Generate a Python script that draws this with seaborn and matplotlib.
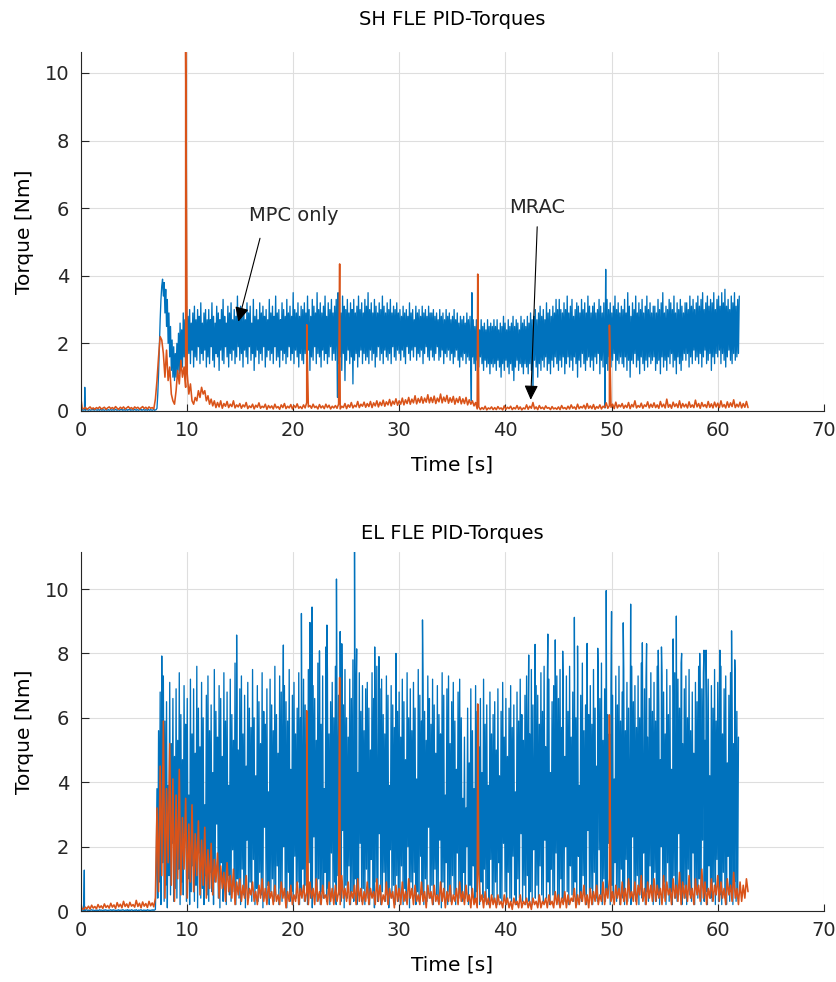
import numpy as np
import matplotlib
matplotlib.use("Agg")
import matplotlib.pyplot as plt
import seaborn as sns

# ---------------------------------------------------------------------------
# Logged PID torques.  MPC traces: 0.075 s sampling, one text row = 1.5 s.
# MRAC traces: 0.15 s sampling, one text row = 3 s.
# ---------------------------------------------------------------------------
MPC_DT, MPC_ROW = 0.075, 1.5
MRAC_DT, MRAC_ROW = 0.15, 3.0

SH_MPC = """
0.04 0.03 0.05 0.02 0.03 0.04 0.02 0.03 0.05 0.03 0.02 0.04 0.03 0.02 0.04 0.03 0.05 0.02 0.03 0.04
0.03 0.02 0.04 0.03 0.02 0.05 0.03 0.02 0.04 0.03 0.02 0.03 0.05 0.02 0.03 0.04 0.02 0.03 0.04 0.02
0.03 0.04 0.02 0.03 0.05 0.03 0.02 0.04 0.03 0.02 0.04 0.03 0.05 0.02 0.03 0.04 0.02 0.03 0.04 0.02
0.04 0.03 0.05 0.02 0.03 0.04 0.02 0.03 0.05 0.03 0.02 0.04 0.03 0.02 0.04 0.03 0.05 0.02 0.03 0.04
0.03 0.02 0.04 0.03 0.02 0.05 0.03 0.02 0.04 0.03 0.02 0.03 0.05 0.02 0.03 0.04 0.08 0.5 1.1 1.9
2.7 3.3 3.7 3.9 3.4 3.8 2.9 3.6 2.5 3.3 2.0 2.9 1.6 2.5 1.2 2.1 1.0 1.9 0.9 1.7
1.0 2.0 1.2 2.3 1.1 2.6 1.4 2.4 1.3 2.9 1.6 2.7 1.2 3.1 1.5 2.8 1.7 3.0 1.4 2.6
1.8 2.9 1.3 3.1 1.6 2.7 1.5 3.0 1.9 2.8 1.4 3.2 1.7 2.6 1.5 2.9 1.8 3.0 1.3 2.7
1.6 3.0 1.4 2.7 1.9 3.2 1.5 2.8 1.3 2.6 1.7 3.1 1.6 2.9 1.2 2.7 1.8 3.0 1.5 3.3
1.4 2.8 1.9 2.6 1.6 3.1 1.3 2.9 1.7 3.2 1.5 2.7 1.8 3.0 1.4 2.8 1.6 3.4 1.9 2.9
1.5 3.1 1.7 2.8 1.3 3.0 1.8 2.7 1.6 3.2 1.4 2.9 1.9 3.1 1.5 2.6 1.7 3.3 1.2 2.8
1.6 3.0 1.8 2.7 1.4 3.2 1.7 2.9 1.5 3.1 1.9 2.8 1.3 3.0 1.6 2.7 1.8 3.3 1.5 2.9
1.7 3.1 1.4 2.8 1.9 3.4 1.5 2.9 1.6 3.0 1.3 2.7 1.8 3.2 1.5 3.0 1.7 2.8 1.4 3.3
1.6 2.9 1.9 3.1 1.5 2.8 1.7 3.5 1.4 3.0 1.8 2.9 1.6 3.2 1.3 2.8 1.7 3.1 1.5 3.0
1.4 3.2 1.7 2.9 1.5 3.4 1.8 3.0 1.2 2.8 1.6 3.3 1.5 3.1 1.9 2.9 1.4 3.5 1.7 3.0
1.6 3.2 1.3 2.9 1.8 3.1 1.5 3.4 1.7 2.8 1.4 3.2 1.6 3.0 1.9 3.3 1.5 2.9 1.7 3.1
1.5 3.3 1.8 3.0 1.4 3.2 1.6 2.9 1.2 3.4 1.7 3.1 0.9 3.0 1.5 3.3 1.8 2.9 1.4 3.2
1.6 3.0 0.8 3.3 1.5 2.9 1.7 3.1 1.3 3.4 1.6 3.0 1.8 3.2 1.4 2.9 1.7 3.3 1.5 3.1
1.6 3.5 1.4 3.0 1.8 3.2 1.5 2.9 1.7 3.3 1.3 3.1 1.6 2.9 1.9 3.2 1.5 3.0 1.7 3.4
1.4 3.1 1.8 2.9 1.6 3.2 1.5 3.0 1.7 3.3 1.4 2.9 1.9 3.1 1.6 3.0 1.5 3.2 1.8 2.9
1.7 3.0 1.5 2.8 1.8 3.1 1.6 2.9 1.4 3.0 1.9 2.8 1.7 3.2 1.5 2.9 1.8 3.0 1.6 2.7
1.9 3.1 1.5 2.9 1.7 3.0 1.6 2.8 1.8 3.1 1.4 2.9 1.7 3.0 1.9 2.8 1.6 3.1 1.5 2.9
1.8 2.9 1.6 3.0 1.5 2.8 1.7 2.9 1.9 2.7 1.5 3.0 1.6 2.8 1.8 2.9 1.4 2.7 1.7 3.0
1.6 2.8 1.8 2.9 1.5 2.7 1.7 2.8 1.4 3.0 1.6 2.7 1.8 2.9 1.5 2.6 1.3 2.8 1.6 2.7
1.5 2.8 1.7 2.6 1.4 2.9 1.6 2.7 1.5 2.8 1.3 2.6 1.6 2.7 1.4 2.5 1.2 2.7 1.5 2.6
1.3 2.4 1.6 2.7 1.4 2.5 1.2 2.6 1.5 2.4 1.3 2.7 1.4 2.5 1.1 2.6 1.4 2.5 1.3 2.7
1.4 2.5 1.2 2.7 1.5 2.4 1.3 2.6 1.0 2.5 1.4 2.8 1.2 2.6 1.5 2.4 1.3 2.7 1.1 2.5
1.4 2.6 1.2 2.8 0.9 2.5 1.3 2.7 1.5 2.6 1.2 2.4 1.4 2.8 1.3 2.6 1.1 2.7 1.4 2.5
1.3 2.8 1.1 2.6 1.4 2.9 1.2 2.7 0.6 2.8 1.5 3.0 1.3 2.7 1.0 2.9 1.4 3.1 1.2 2.8
1.5 3.0 1.3 2.7 1.6 3.2 1.2 2.9 1.4 3.0 1.1 2.8 1.5 3.1 1.3 2.9 1.6 3.3 1.4 3.0
1.2 3.3 1.5 3.0 1.3 2.9 1.6 3.2 1.1 3.0 1.4 3.4 1.6 2.9 1.3 3.1 1.5 3.3 1.2 2.8
1.6 3.0 1.4 3.2 1.0 3.1 1.5 2.9 1.3 3.3 1.7 3.0 1.4 3.2 1.2 2.9 1.5 3.4 1.6 3.1
1.3 2.9 1.5 3.1 1.2 3.2 1.6 2.9 1.4 3.0 1.7 3.3 1.1 3.1 1.5 2.9 1.3 3.2 1.6 3.0
1.4 3.3 1.2 3.0 1.6 3.2 1.3 2.9 1.5 3.1 1.7 3.4 1.2 3.0 1.5 3.2 1.4 2.9 1.6 3.1
1.4 3.0 1.3 3.3 1.6 2.9 1.2 3.5 1.5 3.1 1.0 2.8 1.5 3.2 1.4 3.0 1.7 3.4 1.3 2.9
1.5 3.2 1.1 3.0 1.6 3.3 1.4 2.9 1.2 3.1 1.5 3.4 1.3 3.0 1.6 3.2 1.4 2.9 1.5 3.1
1.6 3.1 1.2 2.9 1.4 3.3 1.5 3.0 1.1 3.2 1.6 3.5 1.3 2.9 1.5 3.1 1.2 3.0 1.6 3.3
1.4 3.2 1.7 3.0 1.3 3.4 1.5 2.9 1.1 3.2 1.6 3.0 1.4 3.3 1.2 3.1 1.5 2.9 1.7 3.2
1.5 3.2 1.7 3.0 1.3 3.4 1.6 3.1 1.4 3.3 1.8 3.0 1.5 3.2 1.6 3.4 1.4 3.1 1.7 3.3
1.3 3.5 1.6 3.0 1.8 3.2 1.4 3.4 1.5 3.1 1.7 3.3 1.2 3.2 1.6 3.5 1.4 3.0 1.7 3.3
1.6 3.4 1.8 3.1 1.4 3.5 1.7 3.2 1.5 3.6 1.3 3.1 1.6 3.3 1.8 3.0 1.5 3.4 1.4 3.2
1.7 3.5 1.5 3.1 1.6 3.3 1.7 3.4
"""
SH_MPC_SPIKE_T = [0.40, 24.20, 24.25, 36.80, 36.85, 49.40, 49.45]
SH_MPC_SPIKE_V = [0.70, 0.40, 3.50, 0.30, 3.50, 0.09, 4.19]

SH_MRAC = """
0.48 0.09 0.06 0.11 0.05 0.08 0.12 0.06 0.09 0.05 0.10 0.07 0.12 0.06 0.08 0.11 0.05 0.09 0.12 0.07
0.10 0.06 0.13 0.08 0.05 0.11 0.07 0.12 0.06 0.09 0.13 0.07 0.10 0.05 0.12 0.08 0.11 0.06 0.09 0.13
0.07 0.11 0.06 0.12 0.08 0.10 0.06 0.35 0.9 1.6 2.2 2.1 1.7 1.0 1.8 0.9 1.3 0.5 0.3 0.2
0.6 1.2 0.8 1.5 1.0 1.3 0.7 1.1 0.5 0.8 0.3 0.2 0.4 0.3 0.6 0.4 0.7 0.5 0.6 0.3
0.45 0.2 0.35 0.15 0.3 0.1 0.25 0.12 0.3 0.08 0.22 0.14 0.28 0.1 0.2 0.13 0.3 0.09 0.18 0.12
0.22 0.08 0.18 0.12 0.25 0.07 0.15 0.1 0.2 0.06 0.17 0.11 0.24 0.08 0.14 0.1 0.2 0.05 0.16 0.09
0.15 0.06 0.2 0.09 0.13 0.05 0.18 0.1 0.22 0.07 0.14 0.09 0.19 0.06 0.16 0.1 0.21 0.08 0.13 0.07
0.18 0.09 0.25 0.12 0.16 0.08 0.2 0.1 0.14 0.06 0.19 0.09 0.15 0.07 0.2 0.1 0.17 0.06 0.14 0.09
0.16 0.08 0.2 0.06 0.14 0.1 0.22 0.07 0.18 0.11 0.25 0.09 0.17 0.12 0.28 0.1 0.2 0.14 0.26 0.11
0.22 0.13 0.28 0.1 0.24 0.15 0.3 0.12 0.26 0.16 0.32 0.14 0.27 0.18 0.34 0.15 0.29 0.2 0.36 0.17
0.3 0.2 0.38 0.18 0.33 0.22 0.4 0.2 0.35 0.24 0.45 0.21 0.37 0.25 0.42 0.23 0.38 0.26 0.48 0.24
0.4 0.25 0.44 0.22 0.38 0.27 0.5 0.24 0.41 0.28 0.46 0.23 0.39 0.26 0.43 0.2 0.37 0.25 0.42 0.21
0.36 0.22 0.4 0.18 0.33 0.2 0.3 0.15 0.25 0.06 0.12 0.04 0.1 0.05 0.14 0.03 0.09 0.06 0.12 0.04
0.1 0.04 0.13 0.06 0.09 0.03 0.15 0.05 0.11 0.07 0.14 0.04 0.1 0.06 0.16 0.05 0.12 0.03 0.09 0.06
0.18 0.05 0.14 0.08 0.25 0.06 0.12 0.04 0.16 0.07 0.11 0.05 0.15 0.08 0.1 0.04 0.13 0.06 0.09 0.05
0.12 0.04 0.16 0.07 0.1 0.05 0.14 0.06 0.18 0.08 0.12 0.05 0.2 0.07 0.13 0.09 0.17 0.06 0.22 0.08
0.15 0.07 0.19 0.05 0.13 0.08 0.18 0.06 0.14 0.1 0.24 0.08 0.16 0.11 0.2 0.07 0.26 0.09 0.18 0.12
0.22 0.08 0.17 0.1 0.25 0.07 0.19 0.12 0.3 0.09 0.16 0.11 0.23 0.08 0.18 0.13 0.27 0.09 0.2 0.11
0.24 0.1 0.18 0.08 0.28 0.12 0.2 0.09 0.35 0.11 0.19 0.08 0.26 0.13 0.21 0.1 0.3 0.09 0.22 0.12
0.2 0.09 0.27 0.11 0.18 0.1 0.32 0.12 0.22 0.08 0.25 0.13 0.19 0.1 0.28 0.11 0.21 0.09 0.26 0.12
0.23 0.1 0.3 0.12 0.19 0.09 0.27 0.11 0.24 0.13 0.33 0.1 0.2 0.12 0.26 0.09 0.22 0.11 0.28 0.1
"""
SH_MRAC_SPIKE_T = [9.90, 21.30, 24.40, 37.40, 49.80]
SH_MRAC_SPIKE_V = [10.62, 2.55, 4.35, 4.05, 2.54]

EL_MPC = """
0.03 0.02 0.04 0.02 0.03 0.01 0.02 0.04 0.03 0.02 0.03 0.01 0.02 0.03 0.04 0.02 0.03 0.02 0.01 0.03
0.02 0.03 0.01 0.02 0.04 0.02 0.03 0.02 0.01 0.03 0.02 0.04 0.02 0.03 0.01 0.02 0.03 0.02 0.04 0.02
0.02 0.04 0.02 0.03 0.02 0.01 0.03 0.02 0.04 0.01 0.02 0.03 0.02 0.04 0.03 0.01 0.02 0.03 0.02 0.04
0.01 0.03 0.02 0.02 0.04 0.03 0.01 0.02 0.03 0.02 0.04 0.02 0.01 0.03 0.02 0.03 0.04 0.02 0.01 0.03
0.02 0.03 0.01 0.02 0.04 0.02 0.03 0.01 0.02 0.03 0.02 0.04 0.02 0.03 0.05 1.2 3.8 0.4 5.6 0.9
6.8 0.2 4.4 1.5 7.3 0.3 5.9 0.8 6.5 0.1 3.9 1.1 7.1 0.5 5.2 2.1 6.6 0.3 4.8 0.7
6.9 0.4 5.3 1.3 7.4 0.2 6.1 0.9 4.7 0.5 7.0 2.4 5.8 0.3 6.6 1.0 3.6 0.2 7.2 0.6
5.5 1.4 6.9 0.3 4.9 0.8 7.6 0.1 6.3 1.8 5.1 0.4 7.1 0.7 6.0 0.2 3.3 1.1 6.7 0.5
7.3 0.3 5.6 1.2 6.4 0.6 4.3 0.2 7.5 0.9 6.2 2.7 5.4 0.4 7.0 0.1 6.6 1.5 4.8 0.3
7.4 0.8 5.9 0.2 6.8 1.1 3.9 0.5 7.2 0.3 6.1 1.9 5.3 0.6 7.7 0.2 6.4 1.0 5.0 0.4
6.9 0.2 7.3 1.3 5.5 0.5 6.7 0.1 4.5 2.2 7.1 0.4 6.3 0.9 5.7 0.3 7.5 1.6 6.0 0.2
4.2 0.7 7.0 0.3 6.5 1.2 5.2 0.5 7.4 0.1 6.2 2.6 5.8 0.4 6.9 0.8 3.7 0.2 7.2 0.6
6.4 1.0 5.6 0.3 7.6 0.5 6.1 1.4 4.9 0.2 7.3 0.7 6.8 0.3 5.4 2.0 7.0 0.4 6.5 0.1
5.9 1.2 7.5 0.3 4.4 0.6 6.7 0.2 7.1 1.7 5.5 0.4 6.3 0.9 7.4 0.2 6.0 0.5 5.1 1.3
7.2 0.3 6.4 0.8 5.7 0.2 7.5 1.5 6.1 0.4 4.6 0.1 7.0 2.3 6.6 0.5 5.3 0.3 7.7 1.0
6.2 0.2 5.8 0.6 7.3 0.4 3.8 1.2 6.9 0.3 7.4 0.7 5.5 0.2 6.5 1.8 7.1 0.4 6.0 0.9
7.6 0.2 5.9 1.1 6.7 0.5 7.3 0.3 4.8 2.5 6.4 0.1 7.5 0.8 6.0 0.4 5.4 1.4 7.2 0.2
6.6 0.6 7.8 0.3 5.1 1.0 6.8 0.2 4.3 0.5 7.4 2.1 6.2 0.3 7.0 0.7 5.6 0.2 6.9 1.3
7.1 0.4 6.3 0.2 5.0 1.6 7.4 0.5 6.6 0.1 5.8 0.9 7.6 0.3 4.5 2.4 6.9 0.2 7.2 0.6
6.1 1.2 5.5 0.3 7.3 0.5 6.7 0.1 3.9 1.9 7.0 0.4 6.4 0.8 5.7 0.2 7.5 1.1 6.2 0.3
6.8 0.5 5.4 1.4 7.2 0.2 6.5 0.7 4.7 0.3 7.4 2.0 6.0 0.1 6.9 0.9 5.6 0.4 7.1 1.2
6.3 0.2 4.1 0.6 7.5 0.3 6.7 1.7 5.9 0.5 7.0 0.2 6.2 1.0 5.3 0.3 7.3 2.6 6.6 0.4
5.8 0.8 7.2 0.2 6.4 1.3 4.9 0.5 7.0 0.3 6.1 2.2 5.5 0.1 7.4 0.9 6.7 0.4 3.6 1.5
6.9 0.2 7.3 0.6 5.2 0.3 6.5 1.1 7.1 0.5 5.9 0.2 4.4 1.8 6.8 0.4 7.2 0.7 6.0 0.3
3.5 1.2 5.4 0.4 3.2 2.0 6.3 0.2 4.6 0.8 6.9 0.5 5.6 1.4 3.8 0.3 7.0 0.6 6.2 2.3
5.1 0.2 6.6 0.9 4.3 0.4 7.2 1.3 5.8 0.3 6.4 0.7 3.9 0.2 6.8 1.6 5.5 0.5 6.1 0.3
6.5 0.9 5.0 0.2 6.9 1.5 4.2 0.4 6.2 0.3 7.1 2.1 5.4 0.6 6.6 0.2 4.8 1.2 6.3 0.4
7.0 0.3 5.7 1.7 6.4 0.5 3.7 0.2 6.8 1.0 5.9 0.4 7.2 2.4 6.1 0.3 5.3 0.8 6.7 0.2
7.3 1.1 6.0 0.3 5.5 0.6 7.5 0.2 6.4 1.9 4.6 0.4 7.0 0.8 6.7 0.2 5.8 1.4 7.4 0.5
6.2 0.3 7.6 2.2 5.1 0.4 6.9 0.9 7.2 0.2 4.3 1.3 6.5 0.5 7.0 0.3 5.9 1.8 7.3 0.4
6.6 0.2 7.5 1.0 5.7 0.4 6.9 0.3 4.8 2.0 7.3 0.6 6.2 0.2 7.6 1.4 5.4 0.5 6.8 0.3
7.1 0.9 6.0 0.2 7.4 1.7 3.9 0.4 6.7 0.3 7.7 1.1 5.6 0.5 6.4 0.2 7.2 2.5 6.1 0.4
7.0 0.7 5.8 0.2 7.5 1.2 6.3 0.4 4.5 0.3 7.2 1.9 6.6 0.5 7.7 0.2 5.3 1.0 6.9 0.3
7.4 0.6 6.1 2.1 5.5 0.2 7.0 0.8 6.7 0.4 4.1 1.5 7.3 0.3 6.4 0.6 7.6 0.2 5.9 1.3
6.8 0.4 7.5 0.2 5.6 1.6 7.1 0.3 6.3 0.8 4.9 0.2 7.6 2.3 6.5 0.5 7.0 0.3 5.7 1.1
7.3 0.2 6.0 0.7 7.7 0.4 4.6 1.8 6.9 0.2 7.2 0.6 5.4 0.3 6.6 1.4 7.4 0.5 6.2 0.2
7.1 1.2 5.9 0.3 7.6 0.5 6.4 0.2 4.7 2.0 7.3 0.4 6.8 0.9 5.5 0.2 7.5 1.5 6.1 0.3
7.0 0.6 4.4 0.2 6.7 1.1 7.4 0.4 5.8 0.3 7.2 2.4 6.3 0.5 7.7 0.2 5.2 0.8 6.9 0.4
7.3 0.2 6.0 1.3 7.5 0.5 5.6 0.3 6.8 1.8 4.9 0.2 7.1 0.7 6.5 0.4 7.6 1.0 5.7 0.2
6.9 2.2 7.4 0.3 5.3 0.6 6.6 0.2 7.2 1.4 4.2 0.4 7.0 0.3 6.3 0.9 7.5 0.2 5.9 1.6
7.1 0.3 6.4 0.5 7.6 0.2 5.5 1.2 6.9 0.4 7.3 0.2 4.6 1.7 6.7 0.3 7.4 0.6 6.0 0.2
5.2 0.9 7.0 0.3 6.2 0.4 5.4
"""
EL_MPC_SPIKE_T = [0.36, 7.65, 14.70, 19.10, 20.80, 21.60, 21.80, 22.50, 23.10, 23.20,
                  24.10, 24.45, 24.60, 25.80, 26.00, 27.70, 28.10, 29.70, 32.20, 42.20,
                  42.80, 44.00, 44.70, 45.40, 46.50, 46.80, 47.70, 48.70, 49.50, 50.00,
                  51.10, 51.80, 52.90, 53.30, 54.40, 54.70, 55.80, 56.10, 56.60, 58.30,
                  58.70, 58.90, 60.20, 61.30, 61.60]
EL_MPC_SPIKE_V = [1.27, 7.92, 8.57, 8.26, 9.24, 8.96, 9.44, 8.08, 8.20, 8.88,
                  10.31, 8.68, 8.30, 11.15, 8.14, 8.20, 7.90, 8.00, 9.04, 7.95,
                  8.28, 8.60, 8.42, 8.07, 9.12, 8.23, 8.31, 8.16, 9.95, 9.30,
                  8.95, 9.53, 8.33, 8.30, 8.10, 8.20, 8.45, 9.16, 8.00, 8.00,
                  8.10, 8.10, 8.10, 8.70, 7.80]

EL_MRAC = """
0.25 0.08 0.05 0.12 0.07 0.15 0.06 0.18 0.09 0.14 0.07 0.2 0.1 0.16 0.08 0.22 0.11 0.17 0.09 0.24
0.12 0.19 0.08 0.26 0.13 0.21 0.1 0.3 0.14 0.22 0.11 0.27 0.15 0.2 0.12 0.33 0.14 0.24 0.1 0.28
0.15 0.23 0.11 0.3 0.16 0.25 0.13 0.4 3.2 0.6 4.5 1.1 5.9 0.4 3.8 1.5 5.2 0.8 4.1 0.3
3.6 1.0 4.4 0.5 2.9 1.3 3.5 0.4 2.7 0.9 3.3 0.6 2.4 1.1 2.8 0.5 2.2 0.8 2.6 0.4
1.9 0.7 2.1 0.5 1.6 0.9 1.8 0.4 1.4 0.7 1.2 0.3 1.5 0.6 1.1 0.4 1.3 0.2 0.9 0.5
1.0 0.3 0.8 0.4 1.1 0.2 0.7 0.5 0.9 0.3 0.6 0.2 0.8 0.4 1.0 0.3 0.7 0.2 0.9 0.4
0.6 0.2 0.8 0.3 0.5 0.2 0.9 0.4 0.7 0.1 0.6 0.3 0.8 0.2 0.5 0.3 0.9 0.2 0.7 0.4
0.8 0.3 0.6 0.2 0.9 0.4 0.7 0.2 1.0 0.3 0.6 0.2 0.8 0.4 0.5 0.2 0.9 0.3 0.7 0.2
0.8 0.3 0.6 0.2 1.1 0.4 0.7 0.3 0.9 0.2 0.6 0.4 0.8 0.2 1.0 0.3 0.7 0.2 0.6 0.3
0.9 0.2 0.7 0.4 0.6 0.2 1.0 0.3 0.8 0.2 0.5 0.3 0.9 0.2 0.7 0.4 0.6 0.1 0.8 0.3
0.7 0.2 0.9 0.3 0.6 0.2 1.0 0.4 0.7 0.2 0.8 0.3 0.5 0.2 0.9 0.3 0.6 0.1 0.8 0.4
0.6 0.2 0.8 0.3 0.5 0.2 0.9 0.3 0.7 0.1 0.6 0.3 0.8 0.2 0.5 0.3 0.7 0.2 0.9 0.3
0.6 0.2 0.8 0.3 0.5 0.1 0.7 0.2 0.4 0.1 1.2 0.3 0.5 0.1 0.6 0.2 0.4 0.1 0.5 0.2
0.4 0.1 0.5 0.2 0.3 0.1 0.5 0.2 0.4 0.1 0.3 0.05 0.4 0.2 0.3 0.1 0.5 0.1 0.3 0.2
0.4 0.1 0.3 0.05 0.4 0.2 0.3 0.1 0.5 0.1 0.3 0.2 0.4 0.1 0.5 0.2 0.3 0.1 0.6 0.2
0.5 0.1 0.4 0.2 0.6 0.1 0.5 0.2 0.4 0.3 0.7 0.1 0.5 0.2 0.6 0.3 0.8 0.2 0.5 0.1
0.7 0.2 0.6 0.3 0.8 0.2 0.5 0.3 0.9 0.2 0.7 0.4 1.0 0.3 0.6 0.2 0.8 0.4 0.7 0.2
0.9 0.3 0.7 0.2 1.0 0.4 0.6 0.3 0.9 0.2 0.8 0.5 1.1 0.3 0.7 0.2 0.9 0.4 0.8 0.3
1.0 0.3 0.8 0.4 0.7 0.2 1.1 0.3 0.9 0.5 0.7 0.2 1.0 0.4 0.8 0.3 1.2 0.2 0.9 0.4
0.8 0.3 1.1 0.4 0.7 0.2 1.0 0.5 0.8 0.3 1.3 0.4 0.9 0.2 0.7 0.4 1.0 0.3 0.8 0.5
1.1 0.3 0.9 0.4 0.7 0.2 1.0 0.5 0.8 0.3 1.2 0.4 0.7 0.2 0.9 0.3 0.8 0.4 1.0 0.6
"""
EL_MRAC_SPIKE_T = [21.30, 24.40, 37.40, 49.80]
EL_MRAC_SPIKE_V = [6.22, 7.25, 6.43, 6.09]

TITLES = ["SH FLE PID-Torques", "EL FLE PID-Torques"]
X_LABEL = "Time [s]"
Y_LABEL = "Torque [Nm]"
X_TICKS = [0, 10, 20, 30, 40, 50, 60, 70]
Y_TICKS = [0, 2, 4, 6, 8, 10]

BLUE = "#0072BD"
ORANGE = "#D95319"
INK = "#262626"


def trace(text, dt, row_span, spike_t, spike_v):
    """Sampled trace (row i starts at i*row_span) with isolated spikes merged in."""
    rows = [r.split() for r in text.strip().splitlines()]
    t = np.concatenate([i * row_span + dt * np.arange(len(r)) for i, r in enumerate(rows)])
    v = np.array([float(s) for r in rows for s in r])
    tt = np.concatenate([t, np.asarray(spike_t, float)])
    vv = np.concatenate([v, np.asarray(spike_v, float)])
    order = np.argsort(tt, kind="stable")
    return tt[order], vv[order]


sns.set_style("white")
plt.rcParams["font.family"] = ["DejaVu Sans"]
# keep every sample of the dense traces (no vertex dropping)
plt.rcParams["path.simplify"] = False

fig = plt.figure(figsize=(8.36, 9.82), dpi=100)
ax_sh = fig.add_axes([0.0963, 0.5815, 0.8893, 0.3655])
ax_el = fig.add_axes([0.0963, 0.0723, 0.8893, 0.3656])

panels = [
    (ax_sh, trace(SH_MPC, MPC_DT, MPC_ROW, SH_MPC_SPIKE_T, SH_MPC_SPIKE_V),
     trace(SH_MRAC, MRAC_DT, MRAC_ROW, SH_MRAC_SPIKE_T, SH_MRAC_SPIKE_V), 27),
    (ax_el, trace(EL_MPC, MPC_DT, MPC_ROW, EL_MPC_SPIKE_T, EL_MPC_SPIKE_V),
     trace(EL_MRAC, MRAC_DT, MRAC_ROW, EL_MRAC_SPIKE_T, EL_MRAC_SPIKE_V), 13),
]

for (ax, mpc, mrac, title_pad_px), title in zip(panels, TITLES):
    sns.lineplot(x=mpc[0], y=mpc[1], ax=ax, color=BLUE, linewidth=0.95,
                 estimator=None, sort=False, legend=False)
    sns.lineplot(x=mrac[0], y=mrac[1], ax=ax, color=ORANGE, linewidth=1.15,
                 estimator=None, sort=False, legend=False)

    ymax = max(mpc[1].max(), mrac[1].max())
    ax.set_xlim(0, 70)
    ax.set_ylim(0, ymax)
    ax.set_xticks(X_TICKS)
    ax.set_yticks(Y_TICKS)

    ax.set_axisbelow(True)
    ax.grid(True, color="#dedede", linewidth=0.8)
    for side in ("top", "right"):
        ax.spines[side].set_visible(False)
    for side in ("left", "bottom"):
        ax.spines[side].set_color(INK)
        ax.spines[side].set_linewidth(0.8)
    ax.tick_params(direction="in", length=5.4, width=0.8, colors=INK,
                   labelsize=14, bottom=True, left=True)
    ax.tick_params(axis="x", pad=7)
    ax.tick_params(axis="y", pad=8)

    ax.set_title(title, fontsize=14, color="black", pad=title_pad_px * 0.72)
    ax.set_xlabel(X_LABEL, fontsize=14.5, color="black")
    ax.set_ylabel(Y_LABEL, fontsize=14.5, color="black")
    ax.xaxis.set_label_coords(0.5, -0.125)
    ax.yaxis.set_label_coords(-0.0625, 0.5)

# Callouts on the shoulder plot
arrow = dict(arrowstyle="-|>,head_length=0.55,head_width=0.26", color="black",
             lw=0.8, shrinkA=0, shrinkB=0, mutation_scale=16)
ax_sh.annotate("", xy=(14.86, 2.64), xytext=(16.9, 5.11), arrowprops=arrow)
ax_sh.text(20.1, 5.78, "MPC only", ha="center", va="center", fontsize=14)
ax_sh.annotate("", xy=(42.39, 0.33), xytext=(43.0, 5.45), arrowprops=arrow)
ax_sh.text(43.0, 6.01, "MRAC", ha="center", va="center", fontsize=14)

fig.savefig("out.png", dpi=100)
